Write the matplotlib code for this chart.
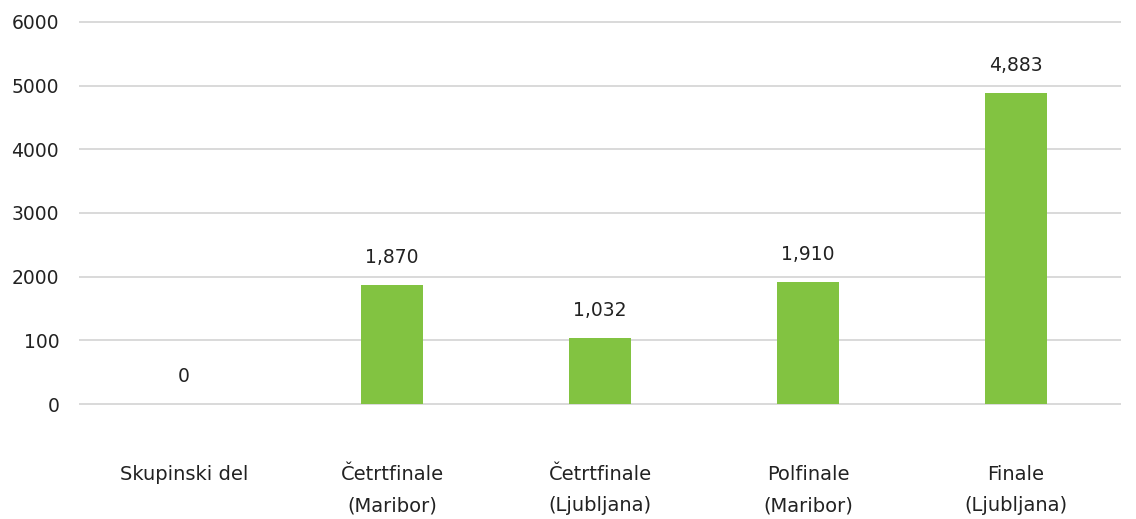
import matplotlib.pyplot as plt
from matplotlib.ticker import FixedLocator, FixedFormatter

# data
categories = ["Skupinski del", "Četrtfinale\n(Maribor)", "Četrtfinale\n(Ljubljana)",
              "Polfinale\n(Maribor)", "Finale\n(Ljubljana)"]
values = [0, 1870, 1032, 1910, 4883]
ytick_values = [0, 1000, 2000, 3000, 4000, 5000, 6000]
ytick_labels = ["0", "100", "2000", "3000", "4000", "5000", "6000"]  # as printed in the source

plt.rcParams['font.family'] = ['DejaVu Sans']

fig = plt.figure(figsize=(11.36, 5.19), dpi=100)
ax = fig.add_axes([80 / 1136, 1 - 404 / 519, 1040 / 1136, (404 - 22) / 519])

x = list(range(len(categories)))
bars = ax.bar(x, values, width=0.30, color="#82C341", zorder=3)

for xi, v in zip(x, values):
    ax.annotate(f"{v:,}", (xi, v), xytext=(0, 20), textcoords="offset points",
                ha="center", va="center", fontsize=13.5, color="#222222")

ax.set_xlim(-0.5, len(categories) - 0.5)
ax.set_ylim(0, 6000)
ax.yaxis.set_major_locator(FixedLocator(ytick_values))
ax.yaxis.set_major_formatter(FixedFormatter(ytick_labels))
ax.grid(axis="y", color="#d9d9d9", linewidth=1.4, zorder=0)
for gl in ax.get_ygridlines():
    gl.set_clip_on(False)

ax.set_xticks(x)
ax.set_xticklabels(categories, fontsize=14, color="#222222", linespacing=1.8)
ax.tick_params(axis="x", length=0, pad=44)
ax.tick_params(axis="y", length=0, pad=15, labelsize=13.5, labelcolor="#222222")

for s in ax.spines.values():
    s.set_visible(False)

fig.savefig("out.png", dpi=100)
